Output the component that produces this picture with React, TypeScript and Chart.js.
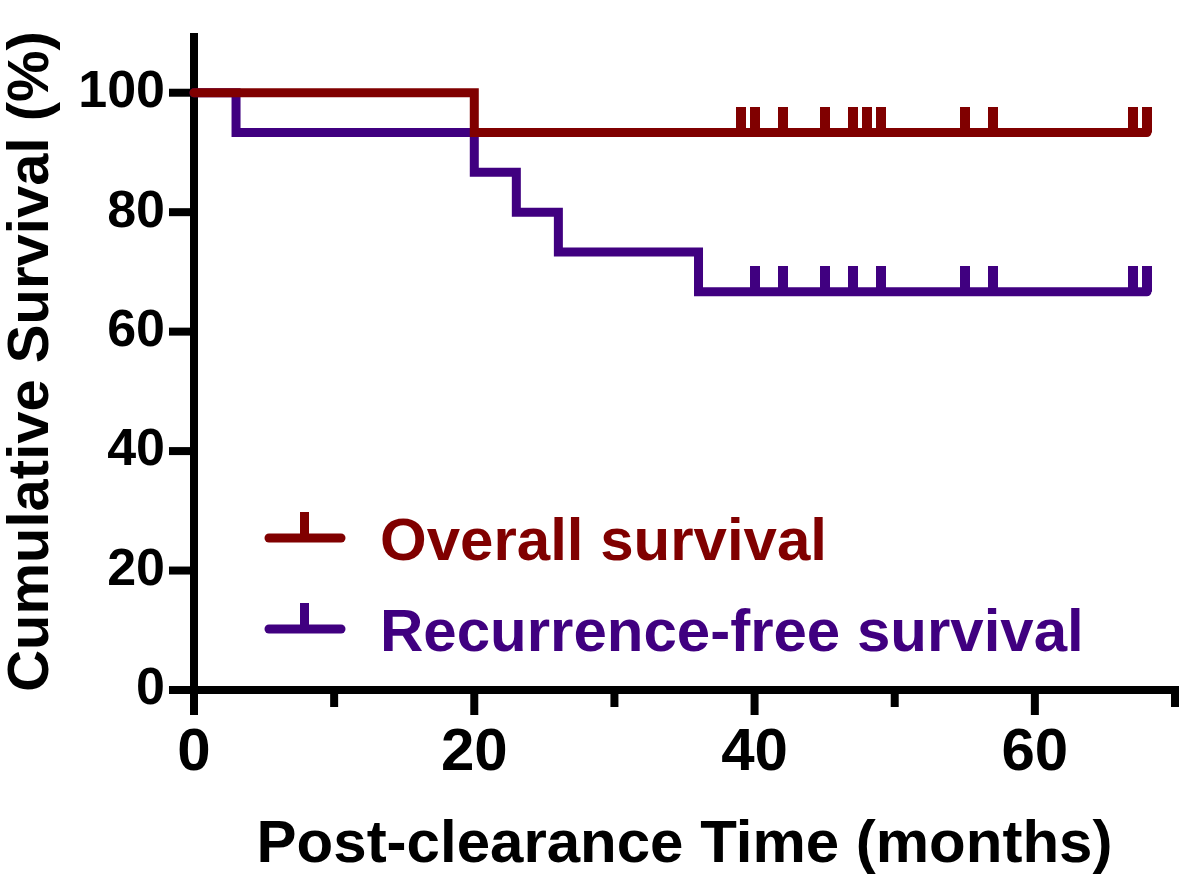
import React, { useEffect, useRef } from "react";
import { Chart, registerables } from "chart.js";

Chart.register(...registerables);

// ---- data ----
const osTimes = [0, 20, 68];
const osSurvival = [100, 93.33, 93.33];
const osCensored = [39, 40, 42, 45, 47, 48, 49, 55, 57, 67, 68];

const rfsTimes = [0, 3, 20, 23, 26, 36, 68];
const rfsSurvival = [100, 93.33, 86.67, 80, 73.33, 66.67, 66.67];
const rfsCensored = [40, 42, 45, 47, 49, 55, 57, 67, 68];

const seriesLabels = ["Overall survival", "Recurrence-free survival"];
const seriesColors = ["#800000", "#400080"];

const yTicks = [0, 20, 40, 60, 80, 100];
const xMajorTicks = [0, 20, 40, 60];
const xMinorTicks = [10, 30, 50, 70];
const xMax = 70;
const yMax = 110;

const xTitle = "Post-clearance Time (months)";
const yTitle = "Cumulative Survival (%)";

const FONT = "'Liberation Sans', Arial, Helvetica, sans-serif";

function survAt(times: number[], surv: number[], t: number) {
  let s = surv[0];
  for (let i = 0; i < times.length; i++) if (times[i] <= t) s = surv[i];
  return s;
}

function toPoints(times: number[], surv: number[]) {
  return times.map((t, i) => ({ x: t, y: surv[i] }));
}

function censorPoints(cens: number[], times: number[], surv: number[]) {
  return cens.map((t) => ({ x: t, y: survAt(times, surv, t) }));
}

function makeMark(color: string) {
  const c = document.createElement("canvas");
  c.width = 10;
  c.height = 52;
  const g = c.getContext("2d")!;
  g.fillStyle = color;
  g.fillRect(0, 0, 10, 26);
  return c;
}

const axesPlugin = {
  id: "kmAxes",
  beforeDatasetsDraw(chart: any) {
    const { ctx } = chart;
    const xs = chart.scales.x;
    const ys = chart.scales.y;
    const MAJOR = 25;
    const MINOR = 17;
    const x0 = xs.getPixelForValue(0);
    const y0 = ys.getPixelForValue(0);
    const yTop = ys.getPixelForValue(yMax);
    const xEnd = xs.getPixelForValue(xMax);
    ctx.save();
    ctx.strokeStyle = "#000";
    ctx.lineWidth = 8;
    ctx.lineCap = "butt";
    const line = (a: number, b: number, c: number, d: number) => {
      ctx.beginPath();
      ctx.moveTo(a, b);
      ctx.lineTo(c, d);
      ctx.stroke();
    };
    line(x0, yTop, x0, y0 + MAJOR);
    line(x0 - MAJOR, y0, xEnd + 4, y0);
    yTicks.forEach((t) => {
      const p = ys.getPixelForValue(t);
      line(x0 - MAJOR, p, x0, p);
    });
    xMajorTicks.forEach((t) => {
      const p = xs.getPixelForValue(t);
      line(p, y0, p, y0 + MAJOR);
    });
    xMinorTicks.forEach((t) => {
      const p = xs.getPixelForValue(t);
      line(p, y0, p, y0 + MINOR);
    });
    ctx.restore();
  },
};

const legendPlugin = {
  id: "kmLegend",
  afterDraw(chart: any) {
    const { ctx } = chart;
    const rows = [538, 629];
    ctx.save();
    seriesLabels.forEach((label, i) => {
      const y = rows[i];
      const color = seriesColors[i];
      ctx.strokeStyle = color;
      ctx.fillStyle = color;
      ctx.lineWidth = 9;
      ctx.lineCap = "round";
      ctx.beginPath();
      ctx.moveTo(269, y);
      ctx.lineTo(341, y);
      ctx.stroke();
      ctx.fillRect(300, y - 26, 9, 26);
      ctx.font = `bold 60px ${FONT}`;
      ctx.textBaseline = "alphabetic";
      ctx.textAlign = "left";
      ctx.fillText(label, 380, y + 22);
    });
    ctx.restore();
  },
};

function zeroPad(s: any) {
  s.paddingTop = 0;
  s.paddingBottom = 0;
  s.paddingLeft = 0;
  s.paddingRight = 0;
}

export default function App() {
  const ref = useRef<HTMLCanvasElement | null>(null);

  useEffect(() => {
    if (!ref.current) return;
    const chart = new Chart(ref.current, {
      type: "line",
      data: {
        datasets: [
          {
            label: seriesLabels[0],
            data: toPoints(osTimes, osSurvival),
            borderColor: seriesColors[0],
            borderWidth: 9,
            stepped: "before",
            pointRadius: 0,
            borderCapStyle: "round",
            borderJoinStyle: "miter",
            fill: false,
            clip: false,
          },
          {
            label: seriesLabels[1],
            data: toPoints(rfsTimes, rfsSurvival),
            borderColor: seriesColors[1],
            borderWidth: 9,
            stepped: "before",
            pointRadius: 0,
            borderCapStyle: "round",
            borderJoinStyle: "miter",
            fill: false,
            clip: false,
          },
          {
            label: seriesLabels[0] + " censored",
            data: censorPoints(osCensored, osTimes, osSurvival),
            showLine: false,
            pointStyle: makeMark(seriesColors[0]) as any,
            pointRadius: 5,
            clip: false,
          },
          {
            label: seriesLabels[1] + " censored",
            data: censorPoints(rfsCensored, rfsTimes, rfsSurvival),
            showLine: false,
            pointStyle: makeMark(seriesColors[1]) as any,
            pointRadius: 5,
            clip: false,
          },
        ] as any,
      },
      options: {
        animation: false,
        responsive: false,
        events: [],
        layout: { padding: { top: 33, right: 6, left: 0, bottom: 0 } },
        plugins: {
          legend: { display: false },
          tooltip: { enabled: false },
        },
        scales: {
          x: {
            type: "linear",
            min: 0,
            max: xMax,
            grid: { display: false, drawTicks: false },
            border: { display: false },
            afterBuildTicks: (s: any) => {
              s.ticks = xMajorTicks.map((v) => ({ value: v }));
            },
            afterFit: (s: any) => {
              s.height = 194;
              zeroPad(s);
            },
            ticks: {
              padding: 27,
              color: "#000",
              maxRotation: 0,
              autoSkip: false,
              font: { family: FONT, size: 60, weight: "bold" },
            },
            title: {
              display: true,
              text: xTitle,
              color: "#000",
              padding: { top: 0, bottom: 3 },
              font: { family: FONT, size: 60, weight: "bold", lineHeight: 1.2 },
            },
          },
          y: {
            type: "linear",
            min: 0,
            max: yMax,
            grid: { display: false, drawTicks: false },
            border: { display: false },
            afterBuildTicks: (s: any) => {
              s.ticks = yTicks.map((v) => ({ value: v }));
            },
            afterFit: (s: any) => {
              s.width = 194;
              zeroPad(s);
            },
            ticks: {
              padding: 29,
              color: "#000",
              autoSkip: false,
              font: { family: FONT, size: 52, weight: "bold" },
            },
            title: {
              display: true,
              text: yTitle,
              color: "#000",
              padding: { top: 0, bottom: 0 },
              font: { family: FONT, size: 58, weight: "bold", lineHeight: 1.1 },
            },
          },
        },
      } as any,
      plugins: [axesPlugin, legendPlugin],
    });
    return () => chart.destroy();
  }, []);

  return (
    <div style={{ position: "absolute", left: 0, top: 0, width: 1181, height: 884, background: "#fff" }}>
      <canvas ref={ref} width={1181} height={884} style={{ display: "block" }} />
    </div>
  );
}
